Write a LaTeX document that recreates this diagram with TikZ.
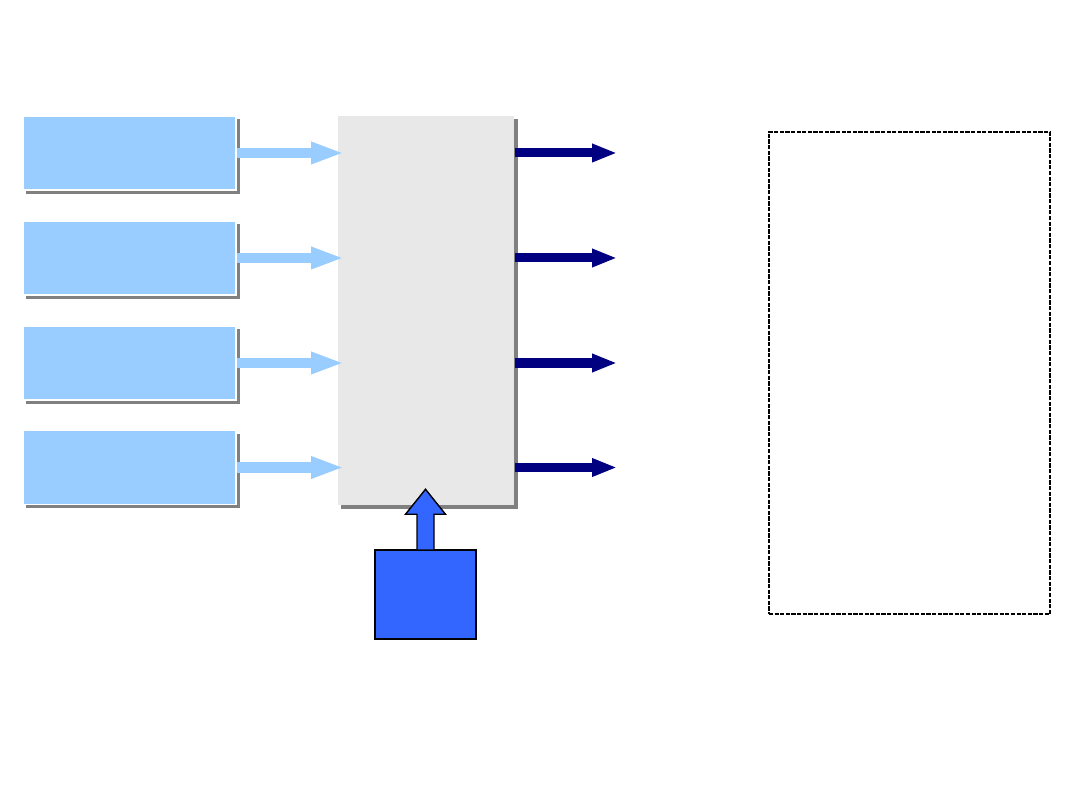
\documentclass[tikz,border=0pt]{standalone}
\usepackage{xcolor}
\usepackage{tikz}
\usetikzlibrary{arrows.meta,positioning,shadows,calc}
\definecolor{azulClaro}{HTML}{99CCFF}
\definecolor{azulForte}{HTML}{3366FF}
\definecolor{marinho}{HTML}{000080}
\definecolor{cinzaNucleo}{HTML}{E8E8E8}
\tikzset{
    sombra/.style={
        drop shadow={shadow xshift=0.035cm, shadow yshift=-0.035cm,
                     fill=gray, opacity=1}
    },
    entrada/.style={
        rectangle,
        draw=white,
        line width=0.4pt,
        fill=azulClaro,
        minimum width=2.13cm,
        minimum height=0.74cm,
        inner sep=0pt,
        sombra
    },
    nucleo/.style={
        rectangle,
        fill=cinzaNucleo,
        minimum width=1.76cm,
        minimum height=3.89cm,
        inner sep=0pt,
        sombra
    },
    controle/.style={
        rectangle,
        draw=black,
        line width=0.4pt,
        fill=azulForte,
        minimum width=1.01cm,
        minimum height=0.89cm,
        inner sep=0pt
    },
    legenda/.style={
        rectangle,
        draw=black,
        dash pattern=on 1.2pt off 0.4pt,
        line width=0.5pt,
        minimum width=2.81cm,
        minimum height=4.82cm,
        inner sep=0pt
    },
    fluxoEntrada/.style={
        -{Triangle[length=0.33cm, width=0.2cm]},
        line width=0.1cm,
        draw=azulClaro,
        shorten >=-0.07cm
    },
    fluxoSaida/.style={
        -{Triangle[length=0.25cm, width=0.17cm]},
        line width=0.09cm,
        draw=marinho,
        shorten >=-0.02cm
    },
    setaBloco/.style={draw=black, line width=0.4pt, fill=azulForte}
}

\begin{document}
\begin{tikzpicture}[x=0.01cm, y=-0.01cm]
    \useasboundingbox (0,0) rectangle (1080,810);
    % bloco central
    \node[nucleo] (nucleo) at (426,310.5) {};
    % entradas
    \node[entrada] (e1) at (129.5,153) {};
    \node[entrada] (e2) at (129.5,258) {};
    \node[entrada] (e3) at (129.5,363) {};
    \node[entrada] (e4) at (129.5,467.5) {};
    % saidas
    \coordinate (s1) at (615,153);
    \coordinate (s2) at (615,258);
    \coordinate (s3) at (615,363);
    \coordinate (s4) at (615,467.5);
    % controle
    \node[controle] (ctrl) at (425.5,594.5) {};
    % quadro lateral
    \node[legenda] (quadro) at (909.5,373) {};
    \foreach \i in {1,...,4}{
        \draw[fluxoEntrada] (e\i.east) -- (nucleo.west |- e\i.east);
        \draw[fluxoSaida] (nucleo.east |- s\i) -- (s\i);
    }
    \draw[setaBloco] ($(ctrl.north)+(-8.5,0)$) -- ++(0,-35) -- ++(-11.5,0)
        -- ($(ctrl.north)+(0,-60)$) -- ($(ctrl.north)+(20,-35)$)
        -- ++(-11.5,0) -- ($(ctrl.north)+(8.5,0)$);
\end{tikzpicture}
\end{document}
